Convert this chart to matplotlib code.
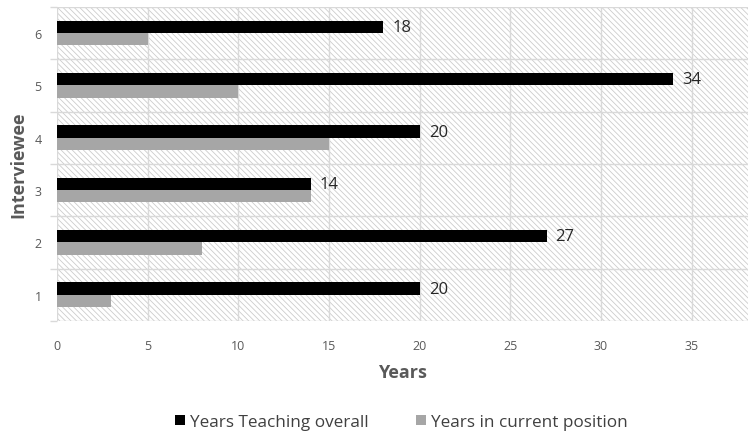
import matplotlib
matplotlib.use("Agg")
import matplotlib.pyplot as plt
import numpy as np
from matplotlib.patches import Rectangle

interviewees = ["1", "2", "3", "4", "5", "6"]
years_overall = [20, 27, 14, 20, 34, 18]
years_current = [3, 8, 14, 15, 10, 5]
x_ticks = [0, 5, 10, 15, 20, 25, 30, 35]

plt.rcParams['font.family'] = ['Open Sans', 'DejaVu Sans']
plt.rcParams['hatch.linewidth'] = 0.6
plt.rcParams['hatch.color'] = '#cccccc'

fig = plt.figure(figsize=(7.5, 4.35), dpi=100)
ax = fig.add_axes([0.076, 0.26, 0.921, 0.722])

y = np.arange(len(interviewees))
h = 0.235
off = 0.118
grid_c = '#d9d9d9'

# hatched background
ax.add_patch(Rectangle((0, 0), 1, 1, transform=ax.transAxes, facecolor='white',
                       edgecolor='#cccccc', hatch='\\' * 6, lw=0, zorder=0))

b1 = ax.barh(y + off, years_overall, height=h, color='black', zorder=3,
             label='Years Teaching overall')
b2 = ax.barh(y - off, years_current, height=h, color='#a6a6a6', zorder=3,
             label='Years in current position')

for yi, v in zip(y, years_overall):
    ax.text(v + 0.5, yi + off, str(v), va='center', ha='left', fontsize=12,
            color='#262626', zorder=4)

ax.set_xlim(0, 38.1)
ax.set_ylim(-0.5, len(interviewees) - 0.5)
ax.set_xticks(x_ticks)
ax.set_yticks(y)
ax.set_yticklabels(interviewees)
ax.set_yticks(np.arange(-0.5, len(interviewees), 1), minor=True)

for xv in x_ticks:
    ax.axvline(xv, color=grid_c, lw=1, zorder=1)
for yv in np.arange(-0.5, len(interviewees), 1):
    ax.axhline(yv, color=grid_c, lw=1, zorder=1)

for s in ax.spines.values():
    s.set_visible(False)

ax.tick_params(axis='x', length=0, labelsize=9, colors='#595959', pad=13)
ax.tick_params(axis='y', which='major', length=0, labelsize=9, colors='#595959', pad=11)
ax.tick_params(axis='y', which='minor', length=5, color=grid_c, width=1)

ax.set_xlabel('Years', fontsize=13, fontweight='bold', color='#595959', labelpad=8)
ax.set_ylabel('Interviewee', fontsize=13, fontweight='bold', color='#595959', labelpad=5)

leg = fig.legend(handles=[b1, b2], loc='center', bbox_to_anchor=(0.535, 0.027),
                 ncol=2, frameon=False, fontsize=12.3, handlelength=0.55,
                 handleheight=0.55, handletextpad=0.3, columnspacing=2.8)
for t in leg.get_texts():
    t.set_color('#404040')

fig.savefig('out.png', dpi=100)
